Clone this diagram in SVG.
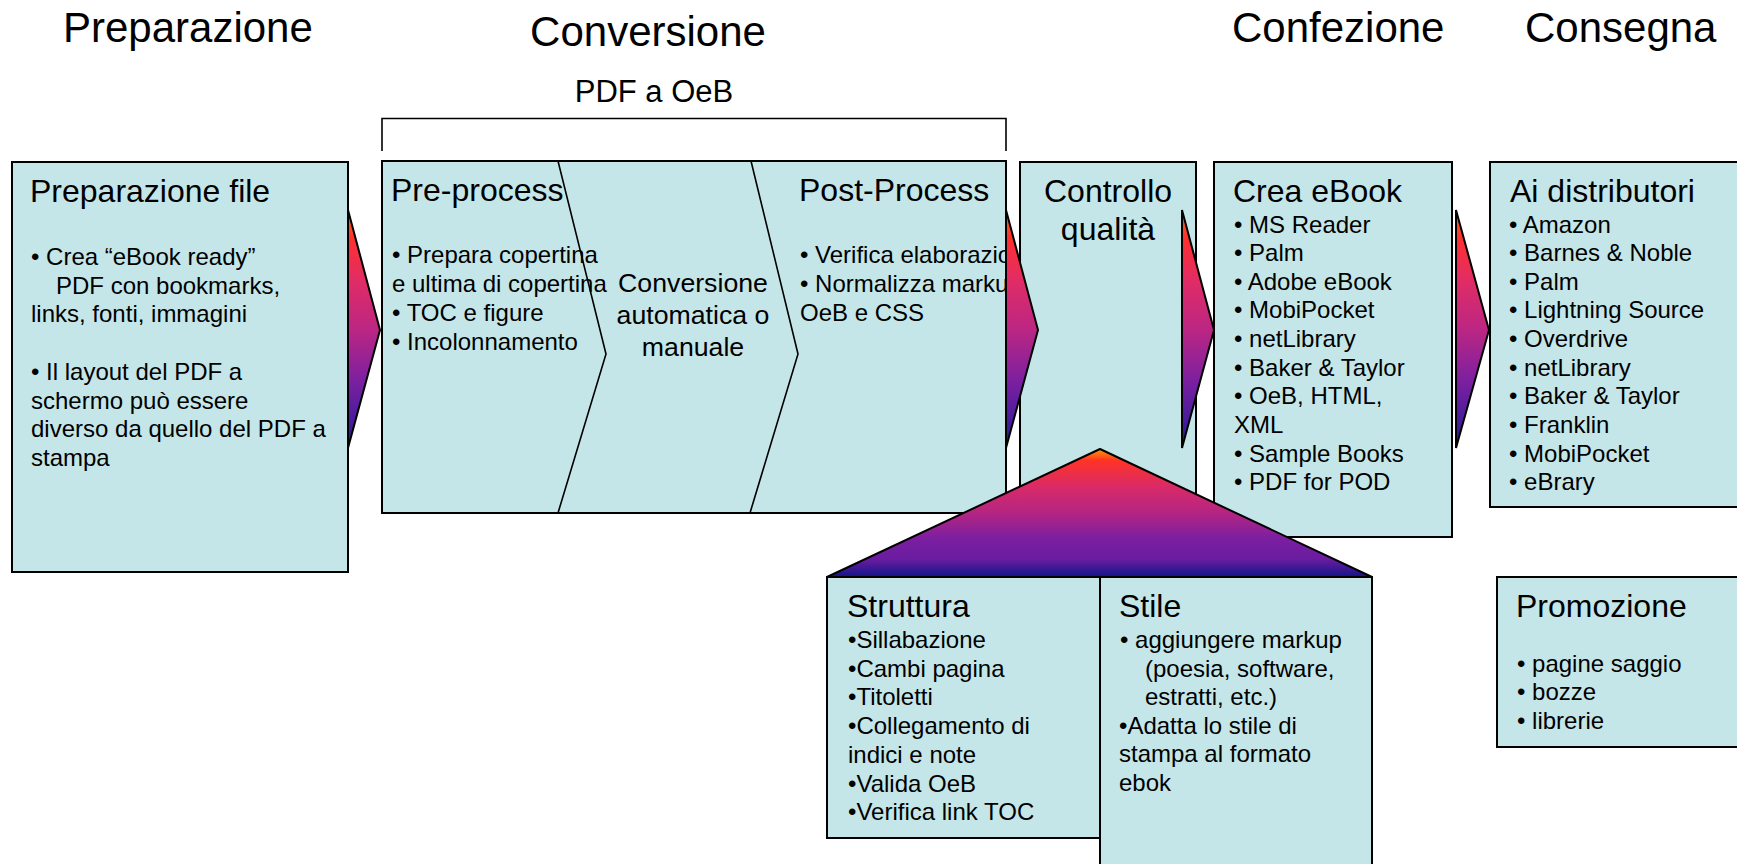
<svg xmlns="http://www.w3.org/2000/svg" width="1737" height="864" viewBox="0 0 1737 864">
<style>
text{font-family:"Liberation Sans",Arial,sans-serif;fill:#000}
.hd{font-size:42px}
.tt{font-size:32px}
.bl{font-size:24px}
.cv{font-size:26.7px}
.sub{font-size:31px}
.box{fill:#C5E6E8;stroke:#000;stroke-width:2}
.ln{fill:none;stroke:#000;stroke-width:1.6}
.arr{fill:url(#ga);stroke:#000;stroke-width:2;stroke-linejoin:miter}
</style>
<defs>
<linearGradient id="ga" x1="0" y1="0" x2="0" y2="1">
<stop offset="0" stop-color="#FF6A10"/>
<stop offset="0.12" stop-color="#FF3030"/>
<stop offset="0.3" stop-color="#E02C66"/>
<stop offset="0.5" stop-color="#BC2683"/>
<stop offset="0.72" stop-color="#7B20A0"/>
<stop offset="1" stop-color="#221A98"/>
</linearGradient>
<linearGradient id="gt" x1="0" y1="0" x2="0" y2="1">
<stop offset="0" stop-color="#FF9A00"/>
<stop offset="0.09" stop-color="#FF3326"/>
<stop offset="0.3" stop-color="#D82A68"/>
<stop offset="0.5" stop-color="#B42582"/>
<stop offset="0.7" stop-color="#7B1FA0"/>
<stop offset="0.86" stop-color="#6A1CA0"/>
<stop offset="1" stop-color="#121488"/>
</linearGradient>
</defs>
<rect width="1737" height="864" fill="#fff"/>

<g id="headers">
<text class="hd" x="63" y="42">Preparazione</text>
<text class="hd" x="648" y="46" text-anchor="middle">Conversione</text>
<text class="hd" x="1232" y="42">Confezione</text>
<text class="hd" x="1525" y="42">Consegna</text>
<text class="sub" x="654" y="102" text-anchor="middle">PDF a OeB</text>
<path class="ln" d="M382,151 V118.5 H1006 V151" stroke-width="2"/>
</g>

<g id="node-preparazione-file">
<rect class="box" x="12" y="162" width="336" height="410"/>
<text class="tt" x="30" y="202">Preparazione file</text>
<text class="bl" x="31" y="265">• Crea “eBook ready”</text>
<text class="bl" x="56" y="294">PDF con bookmarks,</text>
<text class="bl" x="31" y="322">links, fonti, immagini</text>
<text class="bl" x="31" y="380">• Il layout del PDF a</text>
<text class="bl" x="31" y="409">schermo può essere</text>
<text class="bl" x="31" y="437">diverso da quello del PDF a</text>
<text class="bl" x="31" y="466">stampa</text>
</g>

<g id="node-conversione">
<rect class="box" x="382" y="161" width="624" height="352"/>
<path class="ln" d="M558,161 L606,354 L558,513"/>
<path class="ln" d="M751,161 L798,354 L750,513"/>
<text class="tt" x="391" y="201">Pre-process</text>
<text class="bl" x="392" y="263">• Prepara copertina</text>
<text class="bl" x="392" y="292">e ultima di copertina</text>
<text class="bl" x="392" y="321">• TOC e figure</text>
<text class="bl" x="392" y="350">• Incolonnamento</text>
<text class="cv" x="693" y="292" text-anchor="middle">Conversione</text>
<text class="cv" x="693" y="324" text-anchor="middle">automatica o</text>
<text class="cv" x="693" y="356" text-anchor="middle">manuale</text>
<text class="tt" x="799" y="201">Post-Process</text>
<text class="bl" x="800" y="263">• Verifica elaborazio</text>
<text class="bl" x="800" y="292">• Normalizza marku</text>
<text class="bl" x="800" y="321">OeB e CSS</text>
</g>

<g id="node-controllo">
<rect class="box" x="1020" y="162" width="176" height="380"/>
<text class="tt" x="1108" y="202" text-anchor="middle">Controllo</text>
<text class="tt" x="1108" y="240" text-anchor="middle">qualità</text>
</g>

<g id="node-crea-ebook">
<rect class="box" x="1214" y="162" width="238" height="375"/>
<text class="tt" x="1233" y="202">Crea eBook</text>
<text class="bl" x="1234" y="233">• MS Reader</text>
<text class="bl" x="1234" y="261">• Palm</text>
<text class="bl" x="1234" y="290">• Adobe eBook</text>
<text class="bl" x="1234" y="318">• MobiPocket</text>
<text class="bl" x="1234" y="347">• netLibrary</text>
<text class="bl" x="1234" y="376">• Baker &amp; Taylor</text>
<text class="bl" x="1234" y="404">• OeB, HTML,</text>
<text class="bl" x="1234" y="433">XML</text>
<text class="bl" x="1234" y="462">• Sample Books</text>
<text class="bl" x="1234" y="490">• PDF for POD</text>
</g>

<g id="node-ai-distributori">
<rect class="box" x="1490" y="162" width="260" height="345"/>
<text class="tt" x="1510" y="202">Ai distributori</text>
<text class="bl" x="1509" y="233">• Amazon</text>
<text class="bl" x="1509" y="261">• Barnes &amp; Noble</text>
<text class="bl" x="1509" y="290">• Palm</text>
<text class="bl" x="1509" y="318">• Lightning Source</text>
<text class="bl" x="1509" y="347">• Overdrive</text>
<text class="bl" x="1509" y="376">• netLibrary</text>
<text class="bl" x="1509" y="404">• Baker &amp; Taylor</text>
<text class="bl" x="1509" y="433">• Franklin</text>
<text class="bl" x="1509" y="462">• MobiPocket</text>
<text class="bl" x="1509" y="490">• eBrary</text>
</g>

<g id="node-promozione">
<rect class="box" x="1497" y="577" width="260" height="170"/>
<text class="tt" x="1516" y="617">Promozione</text>
<text class="bl" x="1517" y="672">• pagine saggio</text>
<text class="bl" x="1517" y="700">• bozze</text>
<text class="bl" x="1517" y="729">• librerie</text>
</g>

<g id="connectors">
<polygon class="arr" points="348,210 380,330 348,448"/>
<polygon class="arr" points="1006,210 1038,330 1006,448"/>
<polygon class="arr" points="1182,210 1214,330 1182,448"/>
<polygon class="arr" points="1456,210 1489,330 1456,448"/>
</g>

<g id="node-qualita-triangle">
<polygon points="1100,449 1372,577 827,577" fill="url(#gt)" stroke="#000" stroke-width="2" stroke-linejoin="round"/>
</g>

<g id="node-struttura">
<rect class="box" x="827" y="577" width="273" height="261"/>
<text class="tt" x="847" y="617">Struttura</text>
<text class="bl" x="848" y="648">•Sillabazione</text>
<text class="bl" x="848" y="677">•Cambi pagina</text>
<text class="bl" x="848" y="705">•Titoletti</text>
<text class="bl" x="848" y="734">•Collegamento di</text>
<text class="bl" x="848" y="763">indici e note</text>
<text class="bl" x="848" y="792">•Valida OeB</text>
<text class="bl" x="848" y="820">•Verifica link TOC</text>
</g>

<g id="node-stile">
<rect class="box" x="1100" y="577" width="272" height="300"/>
<text class="tt" x="1119" y="617">Stile</text>
<text class="bl" x="1120" y="648">• aggiungere markup</text>
<text class="bl" x="1145" y="677">(poesia, software,</text>
<text class="bl" x="1145" y="705">estratti, etc.)</text>
<text class="bl" x="1119" y="734">•Adatta lo stile di</text>
<text class="bl" x="1119" y="762">stampa al formato</text>
<text class="bl" x="1119" y="791">ebok</text>
</g>
</svg>
